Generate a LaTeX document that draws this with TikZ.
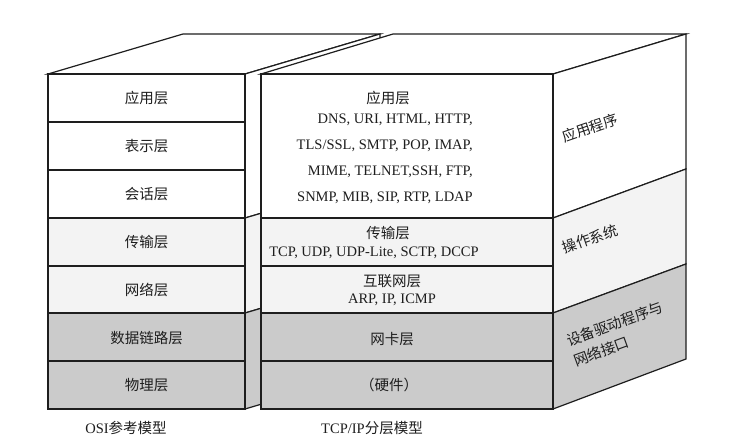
\documentclass[tikz,border=0pt]{standalone}
\usepackage{fontspec}
\setmainfont{Liberation Serif}
\newfontfamily\cjk{Noto Sans CJK SC}
\definecolor{lightfill}{HTML}{F3F3F3}
\definecolor{grayfill}{HTML}{CBCBCB}
\definecolor{ink}{HTML}{1E1E1E}
\begin{document}
\begin{tikzpicture}[x=1pt,y=-1pt,
  face/.style={draw=ink,line width=1.2pt,line join=miter},
  zh/.style={font=\cjk\fontsize{14.5}{16}\selectfont,text=ink,inner sep=0pt},
  en/.style={font=\fontsize{14.5}{16}\selectfont,text=ink,inner sep=0pt},
  side/.style={font=\cjk\fontsize{14.5}{16}\selectfont,text=ink,inner sep=0pt}]
\useasboundingbox[fill=white] (0,0) rectangle (729,442);

% ---------- OSI box ----------
\path[face,fill=white] (48,74) -- (183,34) -- (380,34) -- (245,74) -- cycle;
\path[face,fill=white] (245,74) -- (380,34) -- (380,178) -- (245,218) -- cycle;
\path[face,fill=lightfill] (245,218) -- (380,178) -- (380,273) -- (245,313) -- cycle;
\path[face,fill=grayfill] (245,313) -- (380,273) -- (380,369) -- (245,409) -- cycle;
\path[face,fill=white] (48,74) rectangle (245,122);
\path[face,fill=white] (48,122) rectangle (245,170);
\path[face,fill=white] (48,170) rectangle (245,218);
\path[face,fill=lightfill] (48,218) rectangle (245,266);
\path[face,fill=lightfill] (48,266) rectangle (245,313);
\path[face,fill=grayfill] (48,313) rectangle (245,361);
\path[face,fill=grayfill] (48,361) rectangle (245,409);

\node[zh] (o7) at (146.5,98) {应用层};
\node[zh] (o6) at (146.5,146) {表示层};
\node[zh] (o5) at (146.5,194) {会话层};
\node[zh] (o4) at (146.5,242) {传输层};
\node[zh] (o3) at (146.5,290) {网络层};
\node[zh] (o2) at (146.5,338) {数据链路层};
\node[zh] (o1) at (146.5,385) {物理层};

% ---------- TCP/IP box ----------
\path[face,fill=white] (261,74) -- (393,34) -- (686,34) -- (553,74) -- cycle;
\path[face,fill=white] (553,74) -- (686,34) -- (686,169) -- (553,218) -- cycle;
\path[face,fill=lightfill] (553,218) -- (686,169) -- (686,264) -- (553,313) -- cycle;
\path[face,fill=grayfill] (553,313) -- (686,264) -- (686,359) -- (553,409) -- cycle;
\path[face,fill=white] (261,74) rectangle (553,218);
\path[face,fill=lightfill] (261,218) rectangle (553,266);
\path[face,fill=lightfill] (261,266) rectangle (553,313);
\path[face,fill=grayfill] (261,313) rectangle (553,361);
\path[face,fill=grayfill] (261,361) rectangle (553,409);

\node[zh] (t4) at (388,98) {应用层};
\node[en,anchor=east,align=right,font=\fontsize{14.5}{26}\selectfont] (t4p) at (473,159)
  {DNS, URI, HTML, HTTP,\\TLS/SSL, SMTP, POP, IMAP,\\MIME, TELNET,SSH, FTP,\\SNMP, MIB, SIP, RTP, LDAP};
\node[zh] (t3) at (388,233) {传输层};
\node[en] (t3p) at (374,253) {TCP, UDP, UDP-Lite, SCTP, DCCP};
\node[zh] (t2) at (392,281) {互联网层};
\node[en] (t2p) at (392,300) {ARP, IP, ICMP};
\node[zh] (t1) at (392,339) {网卡层};
\node[zh] (t0) at (389,385) {（硬件）};

% ---------- side labels ----------
\node[side,rotate=19] (s1) at (590,128) {应用程序};
\node[side,rotate=19] (s2) at (590,239) {操作系统};
\node[side,rotate=20,anchor=west] (s3a) at (567,341) {设备驱动程序与};
\node[side,rotate=20,anchor=west] (s3b) at (574,361) {网络接口};

% ---------- captions ----------
\node[en] (c1) at (126,428) {OSI{\cjk 参考模型}};
\node[en] (c2) at (372,428) {TCP/IP{\cjk 分层模型}};
\end{tikzpicture}
\end{document}
